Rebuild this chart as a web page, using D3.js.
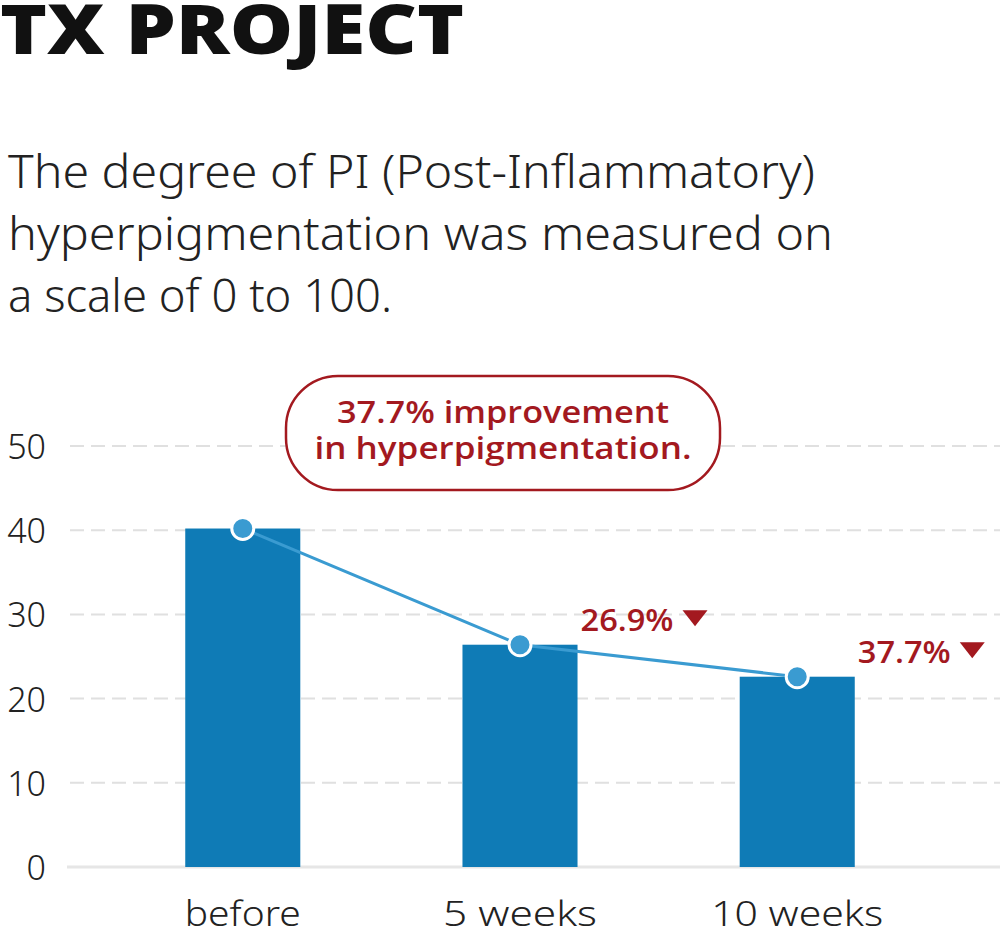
<!DOCTYPE html>
<html>
<head>
<meta charset="utf-8">
<script src="https://cdn.jsdelivr.net/npm/d3@7/dist/d3.min.js"></script>
<style>
  html, body { margin: 0; padding: 0; background: #fff; }
  svg { display: block; }
</style>
</head>
<body>
<svg id="chart" width="1000" height="933"></svg>
<script>
const categories = ["before", "5 weeks", "10 weeks"];
const values = [40.2, 26.4, 22.6];
const changeLabels = [null, "26.9%", "37.7%"];
const yTicks = [0, 10, 20, 30, 40, 50];
const titleText = "TX PROJECT";
const subtitleLines = [
  "The degree of PI (Post-Inflammatory)",
  "hyperpigmentation was measured on",
  "a scale of 0 to 100."
];
const calloutLines = ["37.7% improvement", "in hyperpigmentation."];

const svg = d3.select("#chart");
const RED = "#a3191f";
const BAR = "#0f7bb6";
const LINE = "#3a9bd1";

// Title
svg.append("text")
  .attr("x", 0).attr("y", 54)
  .attr("font-family", "'Open Sans', Lato, sans-serif")
  .attr("font-weight", 800).attr("font-size", 69)
  .attr("fill", "#111")
  .attr("textLength", 464).attr("lengthAdjust", "spacingAndGlyphs")
  .text(titleText);

// Subtitle
const subWidths = [807, 825, 384];
svg.append("g").selectAll("text").data(subtitleLines).join("text")
  .attr("x", 8).attr("y", (d, i) => 188 + i * 62)
  .attr("font-family", "'Noto Sans', sans-serif")
  .attr("font-weight", 300).attr("font-size", 46)
  .attr("fill", "#222")
  .attr("textLength", (d, i) => subWidths[i]).attr("lengthAdjust", "spacingAndGlyphs")
  .text(d => d);

// Scales
const x = d3.scaleBand().domain(categories).range([100, 940])
  .paddingInner(0.585).paddingOuter(0.3075);
const y = d3.scaleLinear().domain([0, 50]).range([867, 446]);

// Gridlines
const grid = svg.append("g");
grid.selectAll("line.g").data(yTicks.filter(t => t > 0)).join("line")
  .attr("class", "g")
  .attr("x1", 70).attr("x2", 1000)
  .attr("y1", d => y(d)).attr("y2", d => y(d))
  .attr("stroke", "#e0e0e0").attr("stroke-width", 2)
  .attr("stroke-dasharray", "14,7");
grid.append("line")
  .attr("x1", 67).attr("x2", 1000)
  .attr("y1", y(0)).attr("y2", y(0))
  .attr("stroke", "#e6e6e6").attr("stroke-width", 3);

// Y tick labels
svg.append("g").selectAll("text").data(yTicks).join("text")
  .attr("x", 46).attr("y", d => y(d))
  .attr("text-anchor", "end").attr("dominant-baseline", "central")
  .attr("font-family", "'Noto Sans', sans-serif")
  .attr("font-weight", 300).attr("font-size", 34)
  .attr("fill", "#222")
  .text(d => d);

// Bars
svg.append("g").selectAll("rect").data(values).join("rect")
  .attr("x", (d, i) => x(categories[i]))
  .attr("width", x.bandwidth())
  .attr("y", d => y(d))
  .attr("height", d => y(0) - y(d))
  .attr("fill", BAR);

// X labels
const xlWidths = [116, 154, 172];
svg.append("g").selectAll("text").data(categories).join("text")
  .attr("x", d => x(d) + x.bandwidth() / 2).attr("y", 926)
  .attr("text-anchor", "middle")
  .attr("font-family", "'Noto Sans', sans-serif")
  .attr("font-weight", 300).attr("font-size", 35)
  .attr("fill", "#222")
  .attr("textLength", (d, i) => xlWidths[i]).attr("lengthAdjust", "spacingAndGlyphs")
  .text(d => d);

// Line + points
const cx = (d, i) => x(categories[i]) + x.bandwidth() / 2;
svg.append("path")
  .datum(values)
  .attr("d", d3.line().x(cx).y(d => y(d)))
  .attr("fill", "none").attr("stroke", LINE).attr("stroke-width", 3);
svg.append("g").selectAll("circle").data(values).join("circle")
  .attr("cx", cx).attr("cy", d => y(d)).attr("r", 11)
  .attr("fill", LINE).attr("stroke", "#fff").attr("stroke-width", 3);

// Change labels
const lbl = svg.append("g");
values.forEach((v, i) => {
  if (!changeLabels[i]) return;
  const lx = x(categories[i]) + x.bandwidth() + 3;
  const ly = y(v) - 13.5;
  lbl.append("text")
    .attr("x", lx).attr("y", ly)
    .attr("font-family", "'Open Sans', sans-serif")
    .attr("font-weight", 600).attr("font-size", 31)
    .attr("fill", RED)
    .attr("textLength", 93).attr("lengthAdjust", "spacingAndGlyphs")
    .text(changeLabels[i]);
  const tx = lx + 93 + 9;
  lbl.append("path")
    .attr("d", `M${tx},${ly - 21} L${tx + 25},${ly - 21} L${tx + 12.5},${ly - 5} Z`)
    .attr("fill", RED);
});

// Callout
const co = svg.append("g");
co.append("rect")
  .attr("x", 286).attr("y", 376).attr("width", 434).attr("height", 114)
  .attr("rx", 52).attr("ry", 52)
  .attr("fill", "#fff").attr("stroke", RED).attr("stroke-width", 2.5);
const coWidths = [332, 377];
co.selectAll("text").data(calloutLines).join("text")
  .attr("x", 503).attr("y", (d, i) => 423 + i * 36)
  .attr("text-anchor", "middle")
  .attr("font-family", "'Open Sans', sans-serif")
  .attr("font-weight", 600).attr("font-size", 30)
  .attr("fill", RED)
  .attr("textLength", (d, i) => coWidths[i]).attr("lengthAdjust", "spacingAndGlyphs")
  .text(d => d);
</script>
</body>
</html>
